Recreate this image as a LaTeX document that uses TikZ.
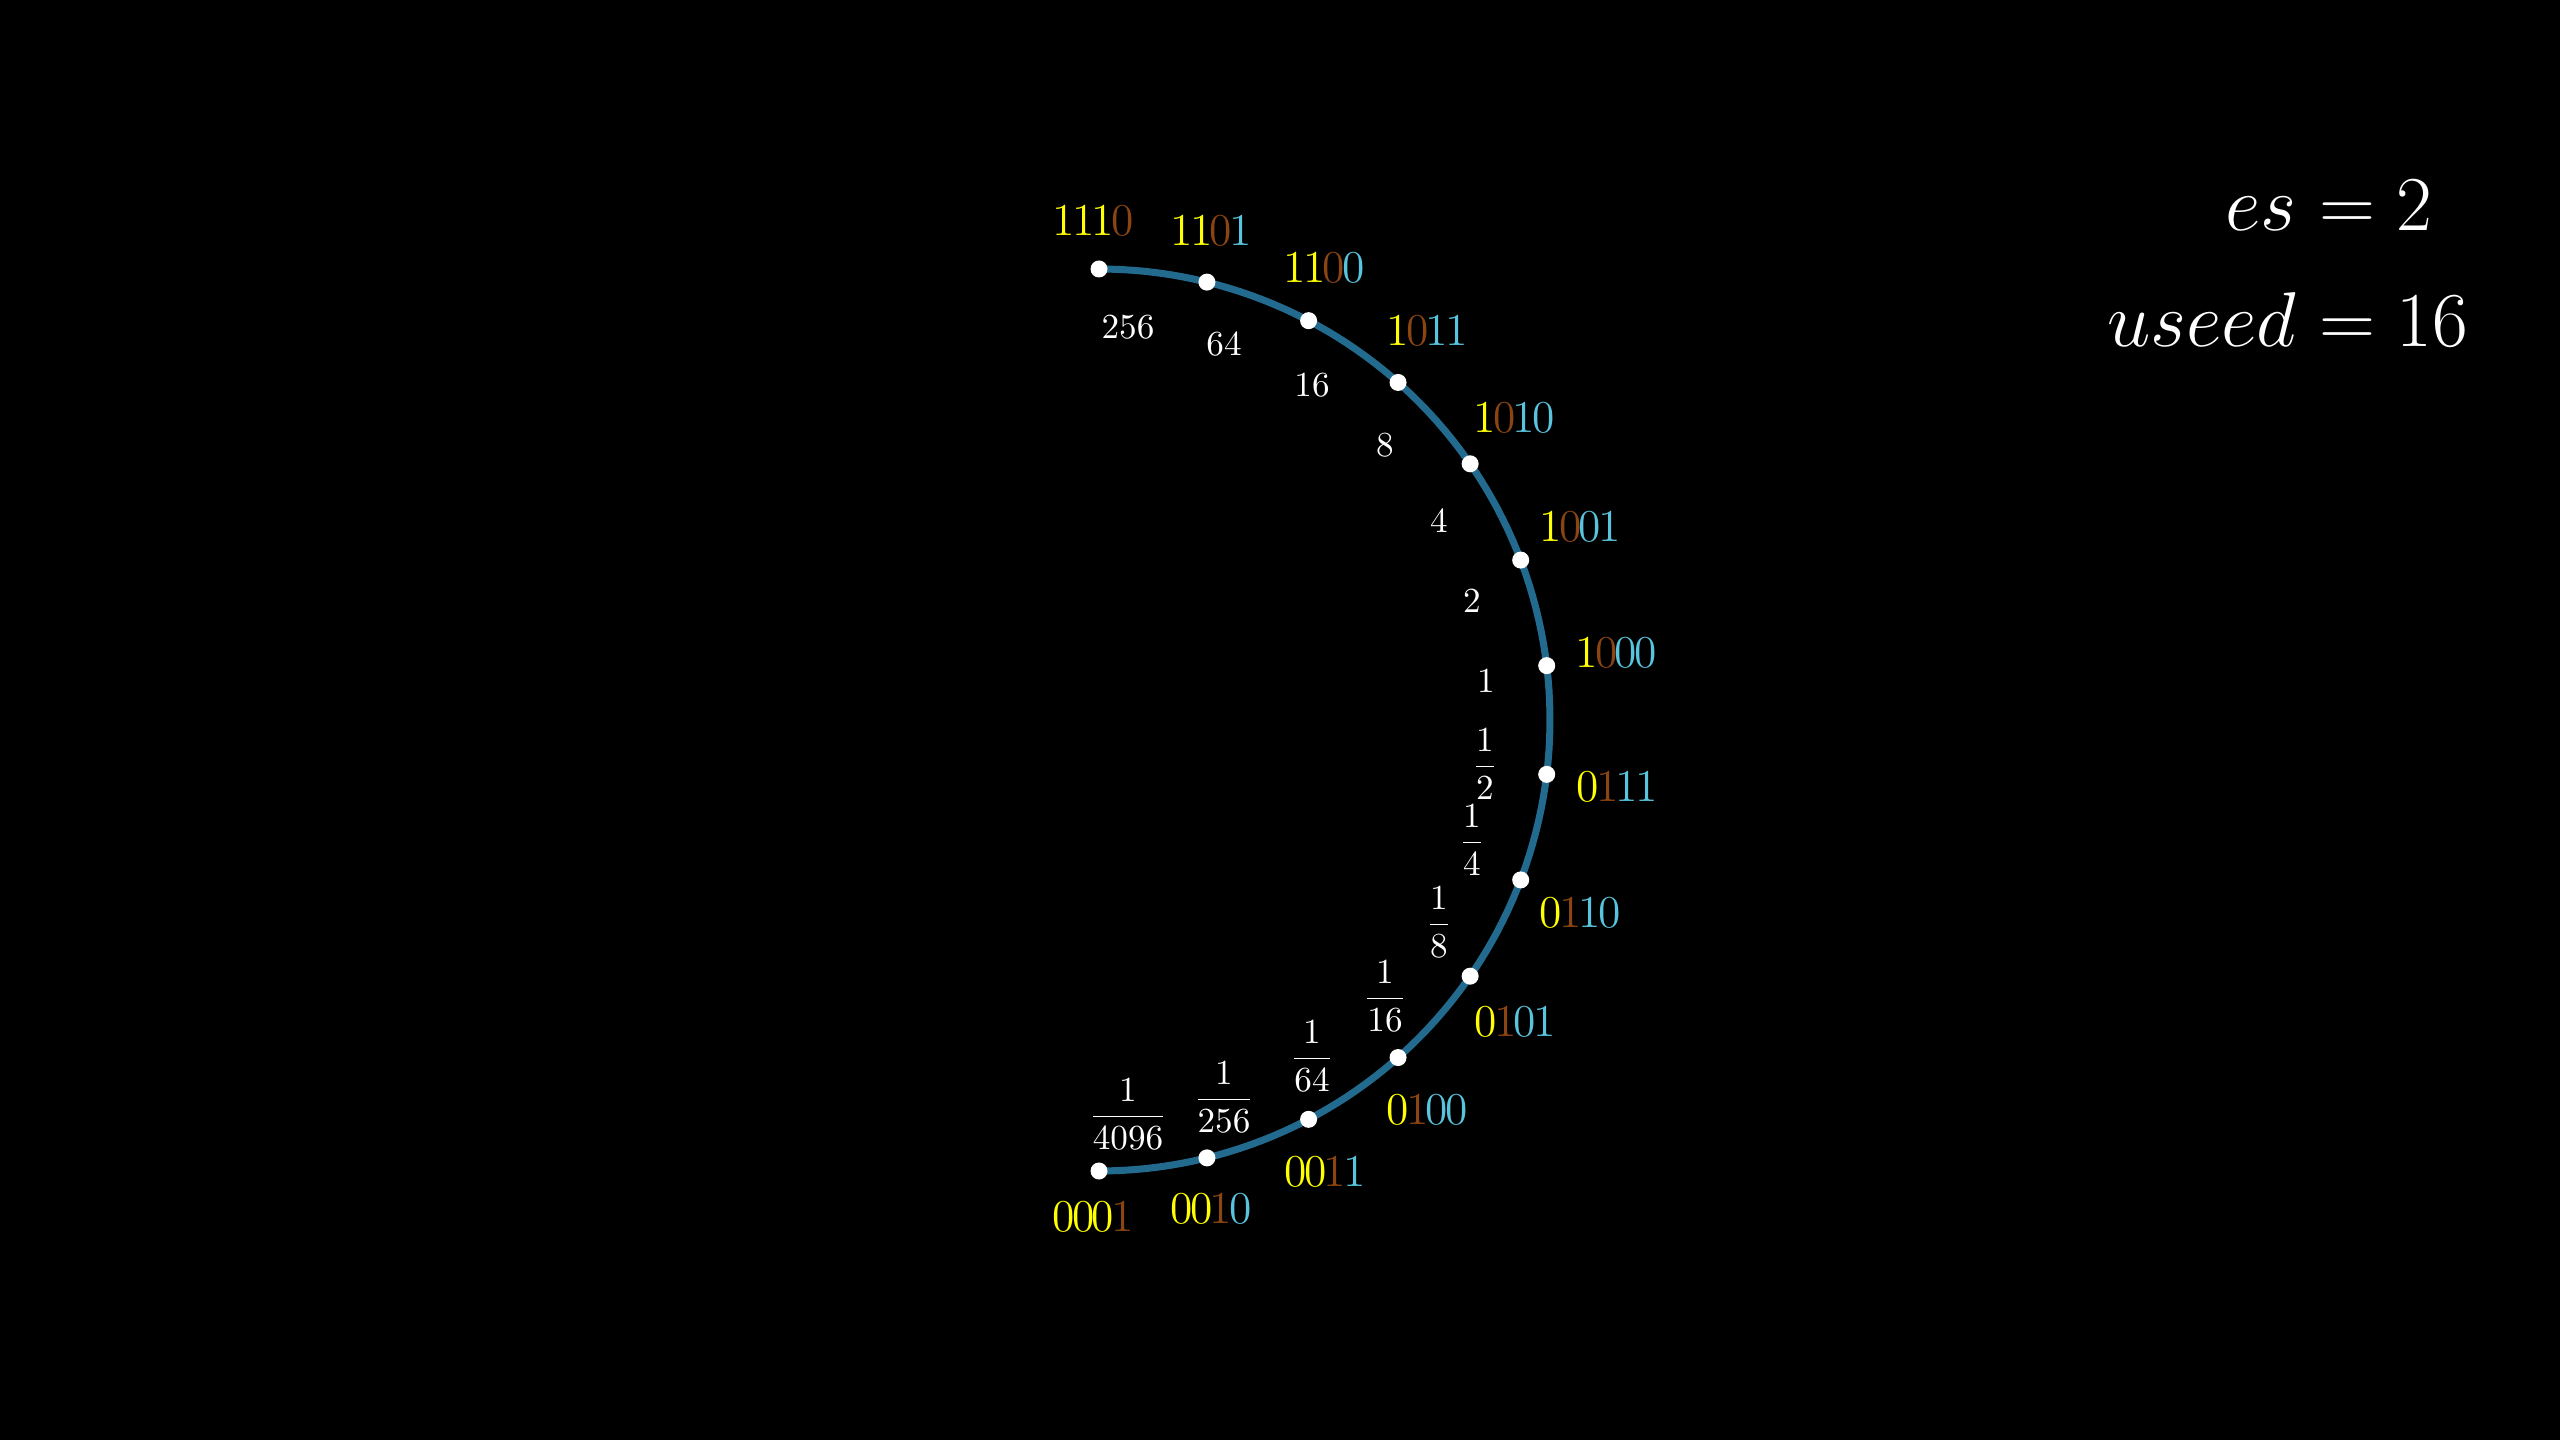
\documentclass[tikz,border=0pt]{standalone}
\usepackage{amsmath}
\usepackage{graphicx}
\definecolor{cy}{HTML}{FFFF00}
\definecolor{cr}{HTML}{8B4513}
\definecolor{cb}{HTML}{58C4DD}
\definecolor{pline}{HTML}{236B8E}
\newcommand\K{\kern-0.06em}
\newcommand\bq[8]{\textcolor{#1}{#2}\K\textcolor{#3}{#4}\K\textcolor{#5}{#6}\K\textcolor{#7}{#8}}
\newcommand\eqs[1]{\scalebox{1.065}{#1}}
\tikzset{
  pdot/.style={circle, fill=white, draw=none, inner sep=0pt, minimum size=0.17cm},
  bitlab/.style={inner sep=0pt, font=\fontsize{12.95}{15}\selectfont},
  vallab/.style={inner sep=0pt, text=white, font=\fontsize{9.67}{11.6}\selectfont},
  eqlab/.style={inner sep=0pt, text=white, font=\fontsize{20.74}{24}\selectfont},
  ring/.style={draw=pline, line width=2pt}
}
\begin{document}
\begin{tikzpicture}[x=0.01cm, y=-0.01cm]
\fill[black] (0,0) rectangle (2560,1440);
\useasboundingbox (0,0) rectangle (2560,1440);
% ring (right half circle)
\draw[ring] plot[domain=90:-90, samples=120] ({1099+451*cos(\x)}, {720-451*sin(\x)});
% dots
\foreach \k/\nm in {0/1110,1/1101,2/1100,3/1011,4/1010,5/1001,6/1000,7/0111,8/0110,9/0101,10/0100,11/0011,12/0010,13/0001}{
  \node[pdot] (d\nm) at ({1099+451*cos(90-\k*180/13)}, {720-451*sin(90-\k*180/13)}) {};
}
% bit labels
\node[bitlab] (l1110) at (1093,221) {\bq{cy}{1}{cy}{1}{cy}{1}{cr}{0}};
\node[bitlab] (l1101) at (1211,231) {\bq{cy}{1}{cy}{1}{cr}{0}{cb}{1}};
\node[bitlab] (l1100) at (1324,268) {\bq{cy}{1}{cy}{1}{cr}{0}{cb}{0}};
\node[bitlab] (l1011) at (1427,331) {\bq{cy}{1}{cr}{0}{cb}{1}{cb}{1}};
\node[bitlab] (l1010) at (1514,418) {\bq{cy}{1}{cr}{0}{cb}{1}{cb}{0}};
\node[bitlab] (l1001) at (1580,527) {\bq{cy}{1}{cr}{0}{cb}{0}{cb}{1}};
\node[bitlab] (l1000) at (1616,653) {\bq{cy}{1}{cr}{0}{cb}{0}{cb}{0}};
\node[bitlab] (l0111) at (1617,787) {\bq{cy}{0}{cr}{1}{cb}{1}{cb}{1}};
\node[bitlab] (l0110) at (1580,913) {\bq{cy}{0}{cr}{1}{cb}{1}{cb}{0}};
\node[bitlab] (l0101) at (1515,1022) {\bq{cy}{0}{cr}{1}{cb}{0}{cb}{1}};
\node[bitlab] (l0100) at (1427,1110) {\bq{cy}{0}{cr}{1}{cb}{0}{cb}{0}};
\node[bitlab] (l0011) at (1325,1172) {\bq{cy}{0}{cy}{0}{cr}{1}{cb}{1}};
\node[bitlab] (l0010) at (1211,1209) {\bq{cy}{0}{cy}{0}{cr}{1}{cb}{0}};
\node[bitlab] (l0001) at (1093,1217) {\bq{cy}{0}{cy}{0}{cy}{0}{cr}{1}};
% value labels
\node[vallab] (v256) at (1128,327) {$256$};
\node[vallab] (v64) at (1224,344) {$64$};
\node[vallab] (v16) at (1312,385) {$16$};
\node[vallab] (v8) at (1385,445) {$8$};
\node[vallab] (v4) at (1439,521) {$4$};
\node[vallab] (v2) at (1472,601) {$2$};
\node[vallab] (v1) at (1486,681) {$1$};
\node[vallab] (vh2) at (1485,764) {$\dfrac{1}{2}$};
\node[vallab] (vh4) at (1472,840) {$\dfrac{1}{4}$};
\node[vallab] (vh8) at (1439,922) {$\dfrac{1}{8}$};
\node[vallab] (vh16) at (1385,996) {$\dfrac{1}{16}$};
\node[vallab] (vh64) at (1312,1056) {$\dfrac{1}{64}$};
\node[vallab] (vh256) at (1224,1097) {$\dfrac{1}{256}$};
\node[vallab] (vh4096) at (1128,1114) {$\dfrac{1}{4096}$};
% parameters
\node[eqlab, anchor=base east] (esL) at (2297,231) {\eqs{$es$}};
\node[eqlab, anchor=base west] (esR) at (2297,231) {\eqs{${}={}2$}};
\node[eqlab, anchor=base east] (usL) at (2297,347) {\eqs{$useed$}};
\node[eqlab, anchor=base west] (usR) at (2297,347) {\eqs{${}={}16$}};
\end{tikzpicture}
\end{document}
